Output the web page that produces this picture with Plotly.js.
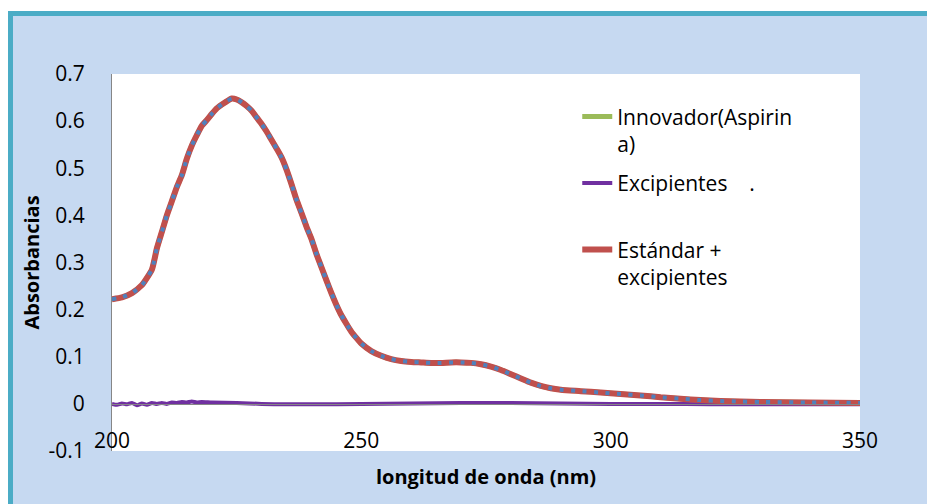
<!DOCTYPE html>
<html>
<head>
<meta charset="utf-8">
<script src="https://cdn.plot.ly/plotly-3.0.1.min.js"></script>
<style>
  html, body { margin: 0; padding: 0; background: #ffffff; width: 927px; height: 504px; overflow: hidden; }
  #frame { position: absolute; left: 8px; top: 11px; width: 919px; height: 493px;
           border-left: 5px solid #4bacc6; border-top: 5px solid #4bacc6; background: #c6d9f1; }
  #chart { position: absolute; left: 0; top: 0; width: 914px; height: 488px; }
</style>
</head>
<body>
<div id="frame"><div id="chart"></div></div>
<script>
// wavelength (nm) for the standard / innovator curves
const wlStd = [200,202,204,206,208,209,210,211,212,213,214,215,216,217,218,219,220,221,222,223,224,225,226,227,228,229,230,231,232,233,234,235,236,237,238,239,240,241,242,243,244,245,246,247,248,249,250,252,254,256,258,260,262,264,266,268,270,272,274,276,278,280,282,284,286,288,290,294,298,302,306,310,314,318,322,326,330,340,350];
const absStd = [0.222,0.226,0.235,0.252,0.285,0.33,0.365,0.40,0.43,0.46,0.485,0.52,0.548,0.57,0.59,0.602,0.615,0.627,0.635,0.642,0.648,0.646,0.640,0.632,0.622,0.608,0.594,0.578,0.560,0.542,0.523,0.497,0.466,0.433,0.405,0.376,0.35,0.318,0.29,0.262,0.235,0.21,0.188,0.17,0.153,0.14,0.128,0.112,0.102,0.095,0.091,0.089,0.088,0.087,0.087,0.088,0.088,0.087,0.084,0.079,0.072,0.063,0.054,0.045,0.038,0.033,0.030,0.027,0.024,0.021,0.018,0.014,0.011,0.008,0.006,0.005,0.004,0.003,0.002];
// innovator curve (hidden under the standard curve in the original)
const absInn = absStd.slice();
// excipients
const wlExc = [200,201,202,203,204,205,206,207,208,209,210,211,212,213,214,215,216,217,218,220,225,230,235,240,250,260,270,280,290,300,310,320,330,340,350];
const absExc = [0.000,-0.002,0.001,-0.001,0.002,-0.003,0.001,-0.002,0.002,0.000,0.002,0.000,0.003,0.002,0.004,0.003,0.005,0.003,0.004,0.003,0.002,0.000,-0.001,-0.001,0.000,0.001,0.002,0.002,0.001,0.000,0.000,-0.001,-0.001,-0.001,-0.001];

const names = ['Innovador(Aspirin<br>a)', 'Excipientes\u00a0\u00a0\u00a0\u00a0.<br>\u00a0', 'Estándar +<br>excipientes'];
const yTickVals = [-0.1,0,0.1,0.2,0.3,0.4,0.5,0.6,0.7];
const yTickText = ['-0.1','0','0.1','0.2','0.3','0.4','0.5','0.6','0.7'];
const xTickVals = [200,250,300,350];
const xTickText = ['200','250','300','350'];

const FONT = 'Open Sans, Lato, sans-serif';

const traces = [
  {x: wlStd, y: absInn, name: names[0], legendgroup: 'g1', mode: 'lines', line: {color: '#9bbb59', width: 5, shape: 'spline', smoothing: 0.5}},
  {x: wlExc, y: absExc, name: names[1], legendgroup: 'g2', mode: 'lines', line: {color: '#7030a0', width: 4, shape: 'spline', smoothing: 0.5}},
  {x: wlStd, y: absStd, name: names[2], legendgroup: 'g3', mode: 'lines', line: {color: '#c0504d', width: 6, shape: 'spline', smoothing: 0.5}},
  {x: wlStd, y: absStd, name: 'Estándar', legendgroup: 'g3', showlegend: false, mode: 'lines', line: {color: '#4f81bd', width: 4, dash: '4px,7.5px', shape: 'spline', smoothing: 0.5}}
];

const layout = {
  width: 914, height: 488,
  paper_bgcolor: '#c6d9f1',
  plot_bgcolor: '#ffffff',
  margin: {l: 99, r: 67, t: 58, b: 53, pad: 0},
  font: {family: FONT, size: 21, color: '#000000'},
  showlegend: true,
  legend: {x: 0.622, xanchor: 'left', y: 0.941, yanchor: 'top', bgcolor: 'rgba(0,0,0,0)',
           font: {family: FONT, size: 21, color: '#000'}, valign: 'top', itemwidth: 30,
           traceorder: 'grouped', tracegroupgap: 9},
  xaxis: {
    range: [200, 350], tickvals: xTickVals, ticktext: xTickText,
    anchor: 'free', position: 0.125, showgrid: false, zeroline: false,
    showline: true, linecolor: '#868686', linewidth: 1, ticks: '',
    ticklabelstandoff: 18,
    tickfont: {family: FONT, size: 21},
    title: {text: '<b>longitud de onda (nm)</b>', font: {family: FONT, size: 20}, standoff: 16}
  },
  yaxis: {
    range: [-0.1, 0.7], tickvals: yTickVals, ticktext: yTickText,
    showgrid: false, zeroline: false, showline: true, linecolor: '#868686', linewidth: 1,
    ticks: '', ticklabelstandoff: 22,
    tickfont: {family: FONT, size: 21},
    title: {text: '<b>Absorbancias</b>', font: {family: FONT, size: 20}, standoff: 3}
  }
};

Plotly.newPlot('chart', traces, layout, {displayModeBar: false, staticPlot: true});
</script>
</body>
</html>
